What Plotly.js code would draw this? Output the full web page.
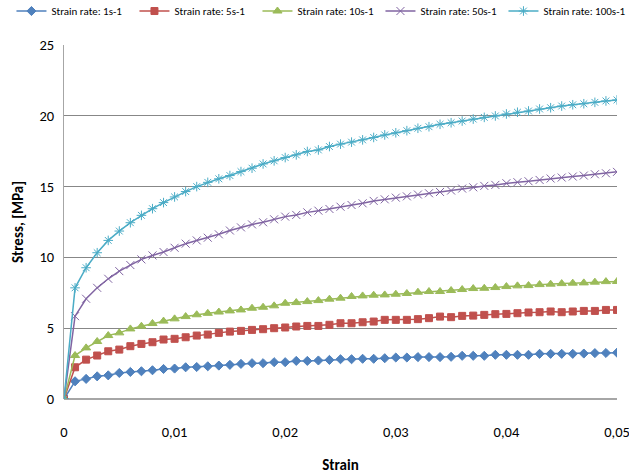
<!DOCTYPE html>
<html><head><meta charset="utf-8">
<script src="https://cdn.plot.ly/plotly-3.0.1.min.js"></script>
<style>html,body{margin:0;padding:0;background:#fff}#chart{width:629px;height:474px}</style>
</head><body><div id="chart"></div>
<script>
const strain = [0,0.001,0.002,0.003,0.004,0.005,0.006,0.007,0.008,0.009,0.010,0.011,0.012,0.013,0.014,0.015,0.016,0.017,0.018,0.019,0.020,0.021,0.022,0.023,0.024,0.025,0.026,0.027,0.028,0.029,0.030,0.031,0.032,0.033,0.034,0.035,0.036,0.037,0.038,0.039,0.040,0.041,0.042,0.043,0.044,0.045,0.046,0.047,0.048,0.049,0.050];
const seriesNames = ["Strain rate: 1s-1","Strain rate: 5s-1","Strain rate: 10s-1","Strain rate: 50s-1","Strain rate: 100s-1"];
const xTickVals = [0,0.01,0.02,0.03,0.04,0.05];
const xTickText = ["0","0,01","0,02","0,03","0,04","0,05"];
const rate1 = [0,1.25,1.42,1.60,1.67,1.84,1.91,1.96,2.03,2.12,2.15,2.24,2.26,2.31,2.36,2.41,2.48,2.53,2.53,2.60,2.60,2.69,2.69,2.72,2.76,2.81,2.81,2.84,2.84,2.88,2.93,2.93,2.96,2.96,2.96,2.98,3.05,3.05,3.05,3.12,3.12,3.12,3.12,3.19,3.19,3.19,3.19,3.21,3.24,3.25,3.27];
const rate5 = [0,2.24,2.78,3.07,3.37,3.49,3.73,3.89,4.01,4.20,4.25,4.36,4.48,4.55,4.67,4.76,4.81,4.88,4.93,5.00,5.05,5.12,5.16,5.16,5.24,5.35,5.35,5.42,5.47,5.59,5.59,5.59,5.64,5.71,5.82,5.78,5.87,5.89,5.94,5.99,6.01,6.06,6.11,6.13,6.18,6.13,6.18,6.22,6.22,6.29,6.29];
const rate10 = [0,3.07,3.61,4.06,4.48,4.67,4.95,5.14,5.33,5.50,5.66,5.82,5.95,6.05,6.14,6.22,6.29,6.41,6.48,6.58,6.76,6.81,6.88,6.95,7.05,7.12,7.24,7.28,7.33,7.35,7.40,7.45,7.54,7.59,7.59,7.66,7.73,7.80,7.82,7.87,7.94,7.99,8.01,8.08,8.11,8.15,8.18,8.20,8.25,8.29,8.30];
const rate50 = [0,5.85,7.08,7.85,8.49,9.03,9.46,9.86,10.14,10.38,10.68,10.97,11.20,11.39,11.63,11.90,12.12,12.33,12.48,12.69,12.88,13.00,13.18,13.30,13.42,13.58,13.70,13.82,13.99,14.10,14.22,14.31,14.44,14.53,14.62,14.72,14.86,14.95,15.05,15.12,15.24,15.31,15.38,15.47,15.57,15.64,15.71,15.78,15.87,15.94,16.04];
const rate100 = [0,7.85,9.27,10.33,11.20,11.86,12.45,12.97,13.44,13.87,14.27,14.65,15.00,15.30,15.55,15.78,16.06,16.30,16.60,16.82,17.05,17.24,17.48,17.59,17.83,18.00,18.14,18.30,18.47,18.65,18.80,18.95,19.12,19.23,19.40,19.51,19.63,19.77,19.89,19.99,20.13,20.25,20.34,20.48,20.57,20.69,20.78,20.85,20.95,21.05,21.12];

const FONT = "Carlito, 'Liberation Sans Narrow', 'Open Sans', sans-serif";
const styles = [
  {color:"#4f81bd", symbol:"diamond", size:7},
  {color:"#c0504d", symbol:"square", size:7},
  {color:"#9bbb59", symbol:"triangle-up", size:8},
  {color:"#8064a2", symbol:"x-thin-open", size:8},
  {color:"#4bacc6", symbol:"asterisk-open", size:8}
];
const ys = [rate1, rate5, rate10, rate50, rate100];
const traces = ys.map((y,i)=>({
  x: strain, y: y, name: seriesNames[i], type:"scatter", mode:"lines+markers",
  line:{color:styles[i].color, width:1.5},
  marker:{color:styles[i].color, symbol:styles[i].symbol, size:styles[i].size, line:{color:styles[i].color, width:1}}
}));
const layout = {
  width:629, height:474,
  margin:{l:64, r:12, t:45, b:75, autoexpand:false},
  paper_bgcolor:"#fff", plot_bgcolor:"#fff",
  font:{family:FONT, size:14, color:"#000"},
  showlegend:true,
  legend:{orientation:"h", x:-0.095, xanchor:"left", xref:"paper", y:1.055, yref:"paper", yanchor:"bottom",
    font:{family:FONT, size:11}, itemwidth:30, entrywidth:78, entrywidthmode:"pixels",
    tracegroupgap:0, bgcolor:"rgba(0,0,0,0)"},
  xaxis:{range:[0,0.05], tickvals:xTickVals, ticktext:xTickText, showgrid:false, zeroline:false, showline:false,
    ticks:"", ticklen:0, tickfont:{family:FONT, size:14.5}, ticklabelstandoff:22, ticklabeloverflow:"allow",
    title:{text:"<b>Strain</b>", font:{family:FONT, size:15}, standoff:20}},
  yaxis:{range:[0,25], dtick:5, showgrid:true, gridcolor:"#878787", gridwidth:1,
    zeroline:true, zerolinecolor:"#a6a6a6", zerolinewidth:2,
    showline:true, linecolor:"#a6a6a6", linewidth:1, ticks:"",
    tickfont:{family:FONT, size:14.5}, ticklabelstandoff:6,
    title:{text:"<b>Stress, [MPa]</b>", font:{family:FONT, size:15}, standoff:12}}
};
Plotly.newPlot("chart", traces, layout, {displayModeBar:false, staticPlot:true});
</script></body></html>
